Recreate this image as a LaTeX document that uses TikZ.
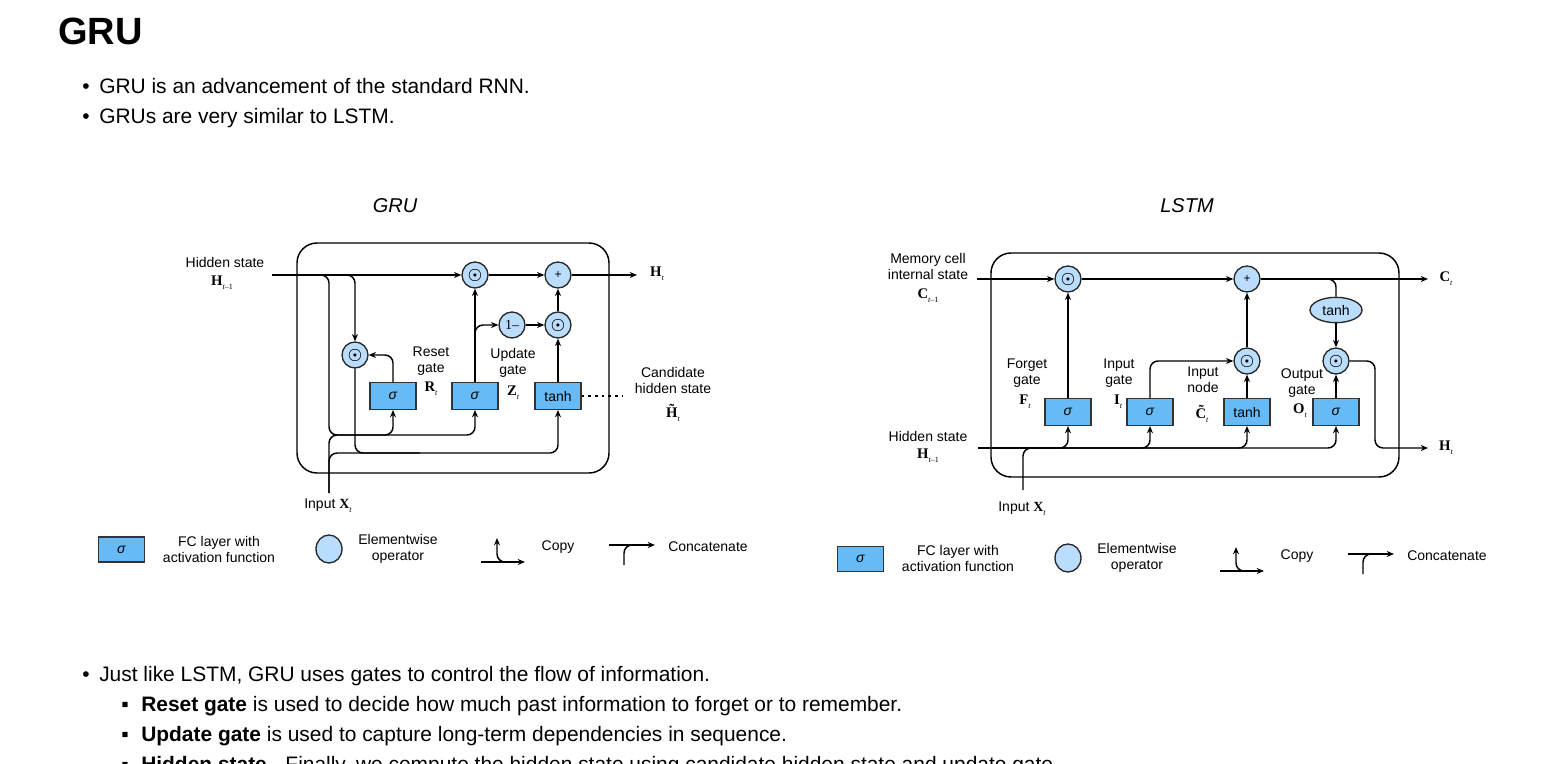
\documentclass[tikz,border=0pt]{standalone}
\usepackage{fontspec}
\setmainfont{Liberation Sans}
\newfontfamily\tnr{Liberation Serif}
\usepackage{tikz}
\usetikzlibrary{positioning,shapes.geometric,arrows.meta}
\usepackage{xcolor}

\definecolor{fcblue}{HTML}{66BBF7}
\definecolor{opblue}{HTML}{BBDDFD}
\newcommand{\vb}[2]{{\tnr\bfseries #1}\raisebox{-0.55ex}{\tnr\fontsize{6}{6}\selectfont\itshape #2}}
\newcommand{\odotsym}{{\fontsize{13}{13}\selectfont\boldmath$\odot$}}

\begin{document}
\begin{tikzpicture}[
  x=0.75pt, y=-0.75pt,
  fc/.style={draw=black!80, fill=fcblue, line width=1pt, minimum width=34.5pt, minimum height=20pt, inner sep=0pt, font=\fontsize{10.5}{12}\selectfont},
  op/.style={circle, draw=black!85, fill=opblue, line width=1pt, minimum size=19.5pt, inner sep=0pt, font=\fontsize{10.5}{12}\selectfont},
  txt/.style={align=center, inner sep=0pt, font=\fontsize{10.5}{12}\selectfont},
  var/.style={inner sep=0pt, font=\fontsize{11}{12}\selectfont},
  wire/.style={line width=1.1pt},
  arrow/.style={wire, ->, >={Stealth[length=5.5pt,width=4.5pt]}, rounded corners=6pt},
  cell/.style={draw, line width=1.1pt, rounded corners=15pt},
  body/.style={anchor=base west, inner sep=0pt, font=\fontsize{15.7}{18}\selectfont}
]
\fill[white] (0,0) rectangle (1547,764);
\useasboundingbox (0,0) rectangle (1547,764);

% Page text
\node[anchor=base west, inner sep=0pt, font=\fontsize{28.5}{32}\selectfont\bfseries] (head) at (58,44) {GRU};
\node[body, anchor=base] (d1) at (86,93) {•};
\node[body] (b1) at (99,93) {GRU is an advancement of the standard RNN.};
\node[body, anchor=base] (d2) at (86,123) {•};
\node[body] (b2) at (99,123) {GRUs are very similar to LSTM.};

% Left side: GRU cell
\node[font=\fontsize{15}{18}\selectfont\itshape] (grutitle) at (395,206) {GRU};
\draw[cell] (297,243) rectangle (609,473);

\node[op] (gmulr) at (355,355) {\odotsym};
\node[op] (gmulh) at (475,275) {\odotsym};
\node[op] (gplus) at (558,275) {\fontsize{9}{9}\selectfont +};
\node[op] (gone) at (512,325) {{\tnr 1–}};
\node[op] (gmulc) at (558,325) {\odotsym};
\node[fc] (gr) at (393,396) {\textit{σ}};
\node[fc] (gz) at (475,396) {\textit{σ}};
\node[fc] (gh) at (558,396) {tanh};

\node[txt] (ghlbl) at (225,262) {Hidden state};
\node[var] (ghvar) at (222,283) {\vb{H}{t\upshape–1}};
\node[txt] (grlbl) at (431,361) {Reset\\gate};
\node[var] (grvar) at (431,389) {\vb{R}{t}};
\node[txt] (gzlbl) at (513,363) {Update\\gate};
\node[var] (gzvar) at (513,393) {\vb{Z}{t}};
\node[txt] (gclbl) at (673,380) {Candidate\\hidden state};
\node[var] (gcvar) at (673,413) {\vb{\~{H}}{t}};
\node[var] (goutvar) at (657,274) {\vb{H}{t}};
\node[txt] (gxlbl) at (328,506) {Input \vb{X}{t}};

\coordinate (ghin) at (272,275);
\coordinate (gout) at (637,275);
\coordinate (gxin) at (329,493);
\coordinate (gc1) at (329,435);
\coordinate (gj1) at (365,435);
\coordinate (gj2) at (420,453);
\coordinate (gzb) at (475,352);
\coordinate (gdot) at (623,396);

\draw[arrow] (ghin) -- (gmulh);
\draw[arrow] (ghin) -| (gmulr);
\draw[arrow] (ghin) -| (gc1) -| (gr);
\draw[arrow] (gj1) -| (gz);
\draw[wire, rounded corners=6pt] (gxin) |- (gj1);
\draw[wire, rounded corners=6pt] (gxin) |- (gj2);
\draw[arrow] (gr) |- (gmulr);
\draw[arrow] (gmulr) |- (gj2) -| (gh);
\draw[arrow] (gz) -- (gmulh);
\draw[arrow] (gzb) |- (gone);
\draw[arrow] (gone) -- (gmulc);
\draw[arrow] (gh) -- (gmulc);
\draw[arrow] (gmulc) -- (gplus);
\draw[arrow] (gmulh) -- (gplus);
\draw[arrow] (gplus) -- (gout);
\draw[wire, dash pattern=on 2pt off 3pt] (gh) -- (gdot);

% Left legend
\node[fc, minimum height=18.75pt] (gkfc) at (121.5,549.5) {\textit{σ}};
\node[txt] (gkfct) at (219,549) {FC layer with\\activation function};
\node[op, ellipse, minimum width=19.5pt, minimum height=21pt] (gkop) at (329,549) {};
\node[txt] (gkopt) at (398,549) {Elementwise\\operator};
\coordinate (gka) at (481,562);
\coordinate (gkb) at (525,562);
\coordinate (gkc) at (506,562);
\coordinate (gkd) at (497,538);
\draw[arrow] (gka) -- (gkb);
\draw[arrow] (gkc) -| (gkd);
\node[txt] (gkcopy) at (558,547) {Copy};
\coordinate (gke) at (609,545);
\coordinate (gkf) at (655,545);
\coordinate (gkg) at (624,565);
\coordinate (gkh) at (640,545);
\draw[arrow] (gke) -- (gkf);
\draw[wire, rounded corners=6pt] (gkg) |- (gkh);
\node[txt] (gkcat) at (708,547) {Concatenate};

% Right side: LSTM cell
\node[font=\fontsize{15}{18}\selectfont\itshape] (lstmtitle) at (1187,206) {LSTM};
\draw[cell] (991,253) rectangle (1399,477);

\node[op] (lmulf) at (1068,279) {\odotsym};
\node[op] (lplus) at (1247,279) {\fontsize{9}{9}\selectfont +};
\node[op, ellipse, minimum width=39pt, minimum height=19pt] (ltanh) at (1336,310) {tanh};
\node[op] (lmuli) at (1247,361) {\odotsym};
\node[op] (lmulo) at (1336,361) {\odotsym};
\node[fc] (lf) at (1068,412) {\textit{σ}};
\node[fc] (li) at (1150,412) {\textit{σ}};
\node[fc] (lc) at (1247,412) {tanh};
\node[fc] (lo) at (1336,412) {\textit{σ}};

\node[txt] (lclbl) at (928,266) {Memory cell\\internal state};
\node[var] (lcvar) at (928,296) {\vb{C}{t\upshape–1}};
\node[txt] (lflbl) at (1027,373) {Forget\\gate};
\node[var] (lfvar) at (1025,402) {\vb{F}{t}};
\node[txt] (lilbl) at (1119,373) {Input\\gate};
\node[var] (livar) at (1118,402) {\vb{I}{t}};
\node[txt] (lnlbl) at (1203,380) {Input\\node};
\node[var] (lnvar) at (1202,414) {\vb{\~{C}}{t}};
\node[txt] (lolbl) at (1302,383) {Output\\gate};
\node[var] (lovar) at (1300,411) {\vb{O}{t}};
\node[var] (lcoutvar) at (1446,279) {\vb{C}{t}};
\node[txt] (lhlbl) at (928,436) {Hidden state};
\node[var] (lhvar) at (928,456) {\vb{H}{t\upshape–1}};
\node[var] (lhoutvar) at (1446,448) {\vb{H}{t}};
\node[txt] (lxlbl) at (1022,509) {Input \vb{X}{t}};

\coordinate (lcin) at (977,279);
\coordinate (lcout) at (1428,279);
\coordinate (ltb) at (1305,279);
\coordinate (lhin) at (978,448);
\coordinate (lhout) at (1428,448);
\coordinate (lxin) at (1023,490);
\coordinate (lj1) at (1045,448);
\coordinate (lob) at (1375,448);

\draw[arrow] (lcin) -- (lmulf);
\draw[arrow] (lmulf) -- (lplus);
\draw[arrow] (lplus) -- (lcout);
\draw[wire, rounded corners=6pt] (ltb) -| (ltanh);
\draw[arrow] (ltanh) -- (lmulo);
\draw[arrow] (lf) -- (lmulf);
\draw[arrow] (li) |- (lmuli);
\draw[arrow] (lc) -- (lmuli);
\draw[arrow] (lmuli) -- (lplus);
\draw[arrow] (lo) -- (lmulo);
\draw[arrow] (lmulo) -| (lob) -- (lhout);
\draw[arrow] (lhin) -| (lf);
\draw[arrow] (lhin) -| (li);
\draw[arrow] (lhin) -| (lc);
\draw[arrow] (lhin) -| (lo);
\draw[wire, rounded corners=6pt] (lxin) |- (lj1);

% Right legend
\node[fc, minimum height=18.75pt] (lkfc) at (860.5,559) {\textit{σ}};
\node[txt] (lkfct) at (958,558) {FC layer with\\activation function};
\node[op, ellipse, minimum width=19.5pt, minimum height=21pt] (lkop) at (1068,558) {};
\node[txt] (lkopt) at (1137,558) {Elementwise\\operator};
\coordinate (lka) at (1220,571);
\coordinate (lkb) at (1264,571);
\coordinate (lkc) at (1245,571);
\coordinate (lkd) at (1236,547);
\draw[arrow] (lka) -- (lkb);
\draw[arrow] (lkc) -| (lkd);
\node[txt] (lkcopy) at (1297,556) {Copy};
\coordinate (lke) at (1348,554);
\coordinate (lkf) at (1394,554);
\coordinate (lkg) at (1363,574);
\coordinate (lkh) at (1379,554);
\draw[arrow] (lke) -- (lkf);
\draw[wire, rounded corners=6pt] (lkg) |- (lkh);
\node[txt] (lkcat) at (1447,556) {Concatenate};

% Bottom text
\node[body, anchor=base] (d3) at (86,681) {•};
\node[body] (b3) at (99,681) {Just like LSTM, GRU uses gates to control the flow of information.};
\node[body, anchor=base] (s1d) at (125,711) {▪};
\node[body] (s1) at (141,711) {\textbf{Reset gate} is used to decide how much past information to forget or to remember.};
\node[body, anchor=base] (s2d) at (125,741) {▪};
\node[body] (s2) at (141,741) {\textbf{Update gate} is used to capture long-term dependencies in sequence.};
\node[body, anchor=base] (s3d) at (125,771) {▪};
\node[body] (s3) at (141,771) {\textbf{Hidden state} - Finally, we compute the hidden state using candidate hidden state and update gate.};

\end{tikzpicture}
\end{document}
